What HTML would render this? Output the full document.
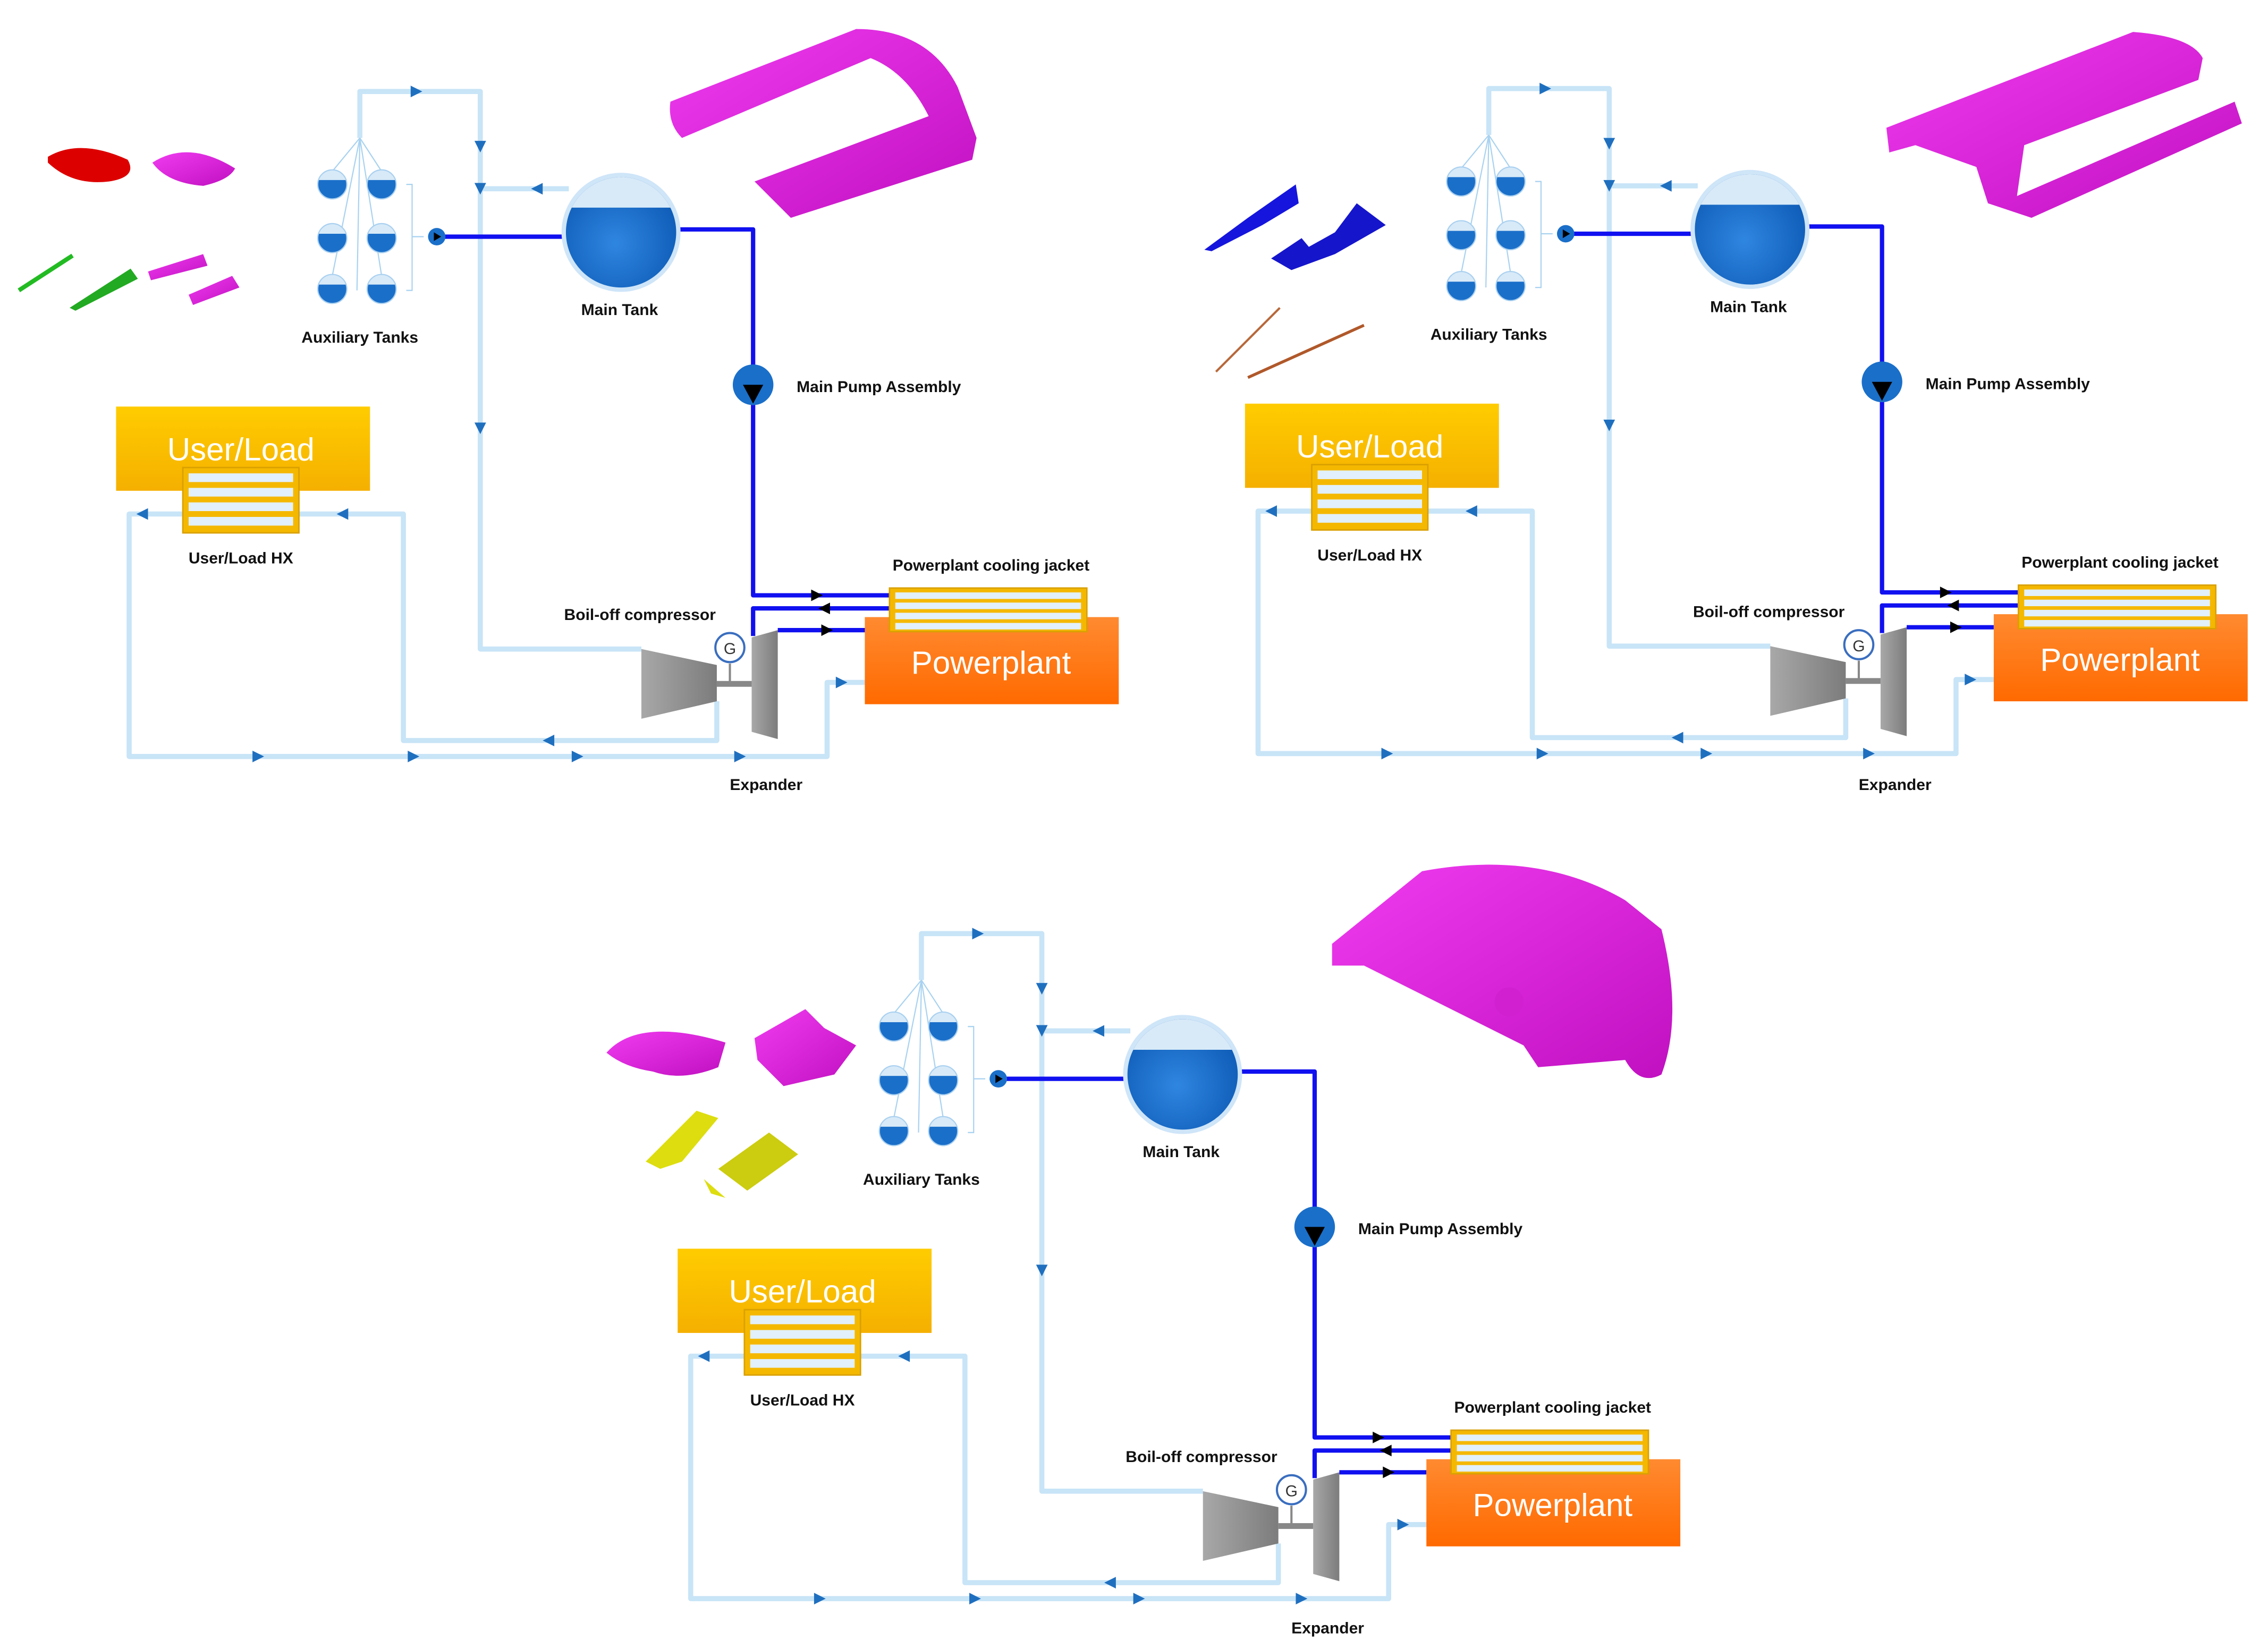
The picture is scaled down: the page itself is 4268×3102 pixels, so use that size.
<!DOCTYPE html>
<html><head><meta charset="utf-8"><style>
html,body{margin:0;padding:0;background:#fff;}
svg{display:block;}
text{font-family:"Liberation Sans",sans-serif;}
.lb{font-size:11px;font-weight:bold;fill:#111;text-anchor:middle;}
.big{font-size:22px;fill:#fff;text-anchor:middle;}
</style></head><body>
<svg width="4268" height="3102" viewBox="0 0 1563 1135" preserveAspectRatio="none" xmlns="http://www.w3.org/2000/svg" xmlns:xlink="http://www.w3.org/1999/xlink">
<defs>
<linearGradient id="gold" x1="0" y1="0" x2="0" y2="1"><stop offset="0" stop-color="#ffcc00"/><stop offset="1" stop-color="#f5b000"/></linearGradient>
<linearGradient id="org" x1="0" y1="0" x2="0" y2="1"><stop offset="0" stop-color="#ff8a30"/><stop offset="1" stop-color="#ff6a00"/></linearGradient>
<radialGradient id="tk" cx="0.45" cy="0.6" r="0.6"><stop offset="0" stop-color="#2f86e0"/><stop offset="1" stop-color="#0f5db8"/></radialGradient>
<linearGradient id="gr" x1="0" y1="0" x2="1" y2="0"><stop offset="0" stop-color="#a8a8a8"/><stop offset="1" stop-color="#7c7c7c"/></linearGradient>
<linearGradient id="mg" x1="0" y1="0" x2="1" y2="1"><stop offset="0" stop-color="#f03cf0"/><stop offset="1" stop-color="#c010c0"/></linearGradient>
<clipPath id="tc"><circle cx="0" cy="0" r="38"/></clipPath>
<clipPath id="ac"><circle cx="0" cy="0" r="10"/></clipPath>
<polygon id="ar" points="-4,-4 4,0 -4,4" fill="#1f6fbf"/>
<polygon id="ak" points="-4,-4 4,0 -4,4" fill="#000"/>
<g id="atk"><circle r="10" fill="#1a6fc9"/><rect x="-10" y="-10" width="20" height="7" fill="#d8eaf8" clip-path="url(#ac)"/><circle r="10" fill="none" stroke="#a9d0f0" stroke-width="0.8"/></g>
<g id="panel">
 <g fill="none" stroke="#c8e4f7" stroke-width="3.5" stroke-linejoin="round">
  <polyline points="248,95 248,63 331,63 331,447 442,447"/>
  <polyline points="392,130 331,130"/>
  <polyline points="494,483 494,510 278,510 278,354 206,354"/>
  <polyline points="126,354 89,354 89,521 570,521 570,470 596,470"/>
 </g>
 <g fill="none" stroke="#a8d2f0" stroke-width="0.8">
  <line x1="248" y1="95" x2="229" y2="118"/><line x1="248" y1="95" x2="263" y2="118"/>
  <line x1="248" y1="95" x2="229" y2="190"/><line x1="248" y1="95" x2="263" y2="190"/>
  <line x1="248" y1="95" x2="246" y2="200"/>
  <polyline points="280,127 284,127 284,200 280,200"/><line x1="284" y1="163" x2="292" y2="163"/>
 </g>
 <use href="#ar" transform="translate(287,63)"/>
 <use href="#ar" transform="translate(331,101) rotate(90)"/>
 <use href="#ar" transform="translate(331,130) rotate(90)"/>
 <use href="#ar" transform="translate(331,295) rotate(90)"/>
 <use href="#ar" transform="translate(370,130) rotate(180)"/>
 <use href="#ar" transform="translate(378,510) rotate(180)"/>
 <use href="#ar" transform="translate(236,354) rotate(180)"/>
 <use href="#ar" transform="translate(98,354) rotate(180)"/>
 <use href="#ar" transform="translate(178,521)"/>
 <use href="#ar" transform="translate(285,521)"/>
 <use href="#ar" transform="translate(398,521)"/>
 <use href="#ar" transform="translate(510,521)"/>
 <use href="#ar" transform="translate(580,470)"/>
 <g fill="none" stroke="#1010f0" stroke-width="3" stroke-linejoin="round">
  <line x1="301" y1="163" x2="392" y2="163"/>
  <polyline points="465,158 519,158 519,410 613,410"/>
  <polyline points="613,419 519,419 519,438"/>
  <polyline points="536,434 596,434"/>
 </g>
 <use href="#ak" transform="translate(563,410)"/>
 <use href="#ak" transform="translate(568,419) rotate(180)"/>
 <use href="#ak" transform="translate(570,434)"/>
 <use href="#atk" x="229" y="127"/><use href="#atk" x="263" y="127"/>
 <use href="#atk" x="229" y="164"/><use href="#atk" x="263" y="164"/>
 <use href="#atk" x="229" y="199"/><use href="#atk" x="263" y="199"/>
 <circle cx="301" cy="163" r="6" fill="#1a6fc9"/><polygon points="299,160 304,163 299,166" fill="#000"/>
 <g transform="translate(428,160)">
  <circle r="41" fill="#cfe5f8"/>
  <circle r="38" fill="url(#tk)"/>
  <rect x="-38" y="-38" width="76" height="21" fill="#d8eaf8" clip-path="url(#tc)"/>
 </g>
 <circle cx="519" cy="265" r="14" fill="#1a6fc9"/>
 <polygon points="512,265 526,265 519,278" fill="#000"/>
 <rect x="80" y="280" width="175" height="58" fill="url(#gold)"/>
 <rect x="126" y="322" width="80" height="45" fill="#f5b800" stroke="#d9a000"/>
 <g fill="#e2f0fb"><rect x="130" y="326" width="72" height="6"/><rect x="130" y="336" width="72" height="6"/><rect x="130" y="346" width="72" height="6"/><rect x="130" y="356" width="72" height="6"/></g>
 <rect x="596" y="425" width="175" height="60" fill="url(#org)"/>
 <rect x="613" y="405" width="136" height="30" fill="#f5b800" stroke="#d9a000"/>
 <g fill="#e2f0fb"><rect x="617" y="408" width="128" height="4.5"/><rect x="617" y="415" width="128" height="4.5"/><rect x="617" y="422" width="128" height="4.5"/><rect x="617" y="429" width="128" height="4.5"/></g>
 <polygon points="442,447 494,458 494,483 442,495" fill="url(#gr)"/>
 <polygon points="518,439 536,434 536,509 518,504" fill="url(#gr)"/>
 <rect x="494" y="469" width="24" height="4" fill="#888"/>
 <line x1="503" y1="457" x2="503" y2="470" stroke="#888" stroke-width="1.5"/>
 <circle cx="503" cy="446" r="10" fill="#fff" stroke="#3a6ebf" stroke-width="1.5"/>
 <text x="503" y="450.5" font-size="11" fill="#333" text-anchor="middle">G</text>
</g>
<g id="s1">
 <path d="M33,108 Q55,95 88,110 Q95,122 75,125 Q50,128 33,112Z" fill="#dd0000"/>
 <path d="M105,112 Q130,96 162,116 Q158,124 140,128 Q115,126 105,112Z" fill="url(#mg)"/>
 <line x1="13" y1="200" x2="50" y2="176" stroke="#22bb22" stroke-width="3"/>
 <polygon points="48,212 90,185 95,192 52,214" fill="#22aa22"/>
 <polygon points="102,187 140,175 143,183 104,193" fill="url(#mg)"/>
 <polygon points="130,203 160,190 165,198 133,210" fill="url(#mg)"/>
 <path d="M462,70 L590,20 Q640,20 660,60 L673,95 L670,110 L545,150 L520,125 L640,80 Q625,50 600,40 L470,95 Q460,85 462,70Z" fill="url(#mg)"/>
</g>
</defs>

<use href="#panel"/>
<use href="#panel" transform="translate(778,-2)"/>
<use href="#panel" transform="translate(387,580)"/>

<use href="#s1"/>
<polygon points="830,172 860,150 893,127 895,140 870,155 835,173" fill="#1515dd"/>
<polygon points="876,178 897,164 902,170 920,160 935,140 955,155 920,175 890,186" fill="#1515cc"/>
<line x1="838" y1="256" x2="882" y2="212" stroke="#b8683a" stroke-width="1.5"/>
<line x1="860" y1="260" x2="940" y2="224" stroke="#b0582a" stroke-width="2"/>
<path d="M1300,88 L1470,22 Q1510,25 1518,40 L1515,55 L1395,100 L1390,135 L1540,70 L1545,85 L1400,150 L1370,140 L1362,115 L1320,100 L1302,105Z" fill="url(#mg)"/>
<path d="M418,725 Q440,700 500,718 L495,735 Q470,745 450,738 Q430,735 418,725Z" fill="url(#mg)"/>
<path d="M520,715 L555,695 L568,708 L590,720 L575,740 L540,748 L522,730Z" fill="url(#mg)"/>
<polygon points="445,800 480,765 495,770 470,800 455,805" fill="#dddd10"/>
<polygon points="495,805 530,780 550,795 515,820" fill="#cccc10"/>
<polygon points="485,812 500,825 490,822" fill="#dddd10"/>
<path d="M918,650 L980,600 Q1060,585 1120,620 L1145,640 Q1160,700 1145,740 Q1130,748 1120,730 L1060,735 L1050,720 L1010,700 L940,665 L918,665Z" fill="url(#mg)"/>
<circle cx="1040" cy="690" r="10" fill="#d020d0"/>

<g>
<text class="lb" x="248" y="236">Auxiliary Tanks</text>
<text class="lb" x="427" y="217">Main Tank</text>
<text class="lb" x="549" y="270" style="text-anchor:start">Main Pump Assembly</text>
<text class="lb" x="166" y="388">User/Load HX</text>
<text class="lb" x="683" y="393">Powerplant cooling jacket</text>
<text class="lb" x="441" y="427">Boil-off compressor</text>
<text class="lb" x="528" y="544">Expander</text>
<text class="big" x="166" y="317">User/Load</text>
<text class="big" x="683" y="464">Powerplant</text>
</g>
<g transform="translate(778,-2)">
<text class="lb" x="248" y="236">Auxiliary Tanks</text>
<text class="lb" x="427" y="217">Main Tank</text>
<text class="lb" x="549" y="270" style="text-anchor:start">Main Pump Assembly</text>
<text class="lb" x="166" y="388">User/Load HX</text>
<text class="lb" x="683" y="393">Powerplant cooling jacket</text>
<text class="lb" x="441" y="427">Boil-off compressor</text>
<text class="lb" x="528" y="546">Expander</text>
<text class="big" x="166" y="317">User/Load</text>
<text class="big" x="683" y="464">Powerplant</text>
</g>
<g transform="translate(387,580)">
<text class="lb" x="248" y="236">Auxiliary Tanks</text>
<text class="lb" x="427" y="217">Main Tank</text>
<text class="lb" x="549" y="270" style="text-anchor:start">Main Pump Assembly</text>
<text class="lb" x="166" y="388">User/Load HX</text>
<text class="lb" x="683" y="393">Powerplant cooling jacket</text>
<text class="lb" x="441" y="427">Boil-off compressor</text>
<text class="lb" x="528" y="545">Expander</text>
<text class="big" x="166" y="317">User/Load</text>
<text class="big" x="683" y="464">Powerplant</text>
</g>
</svg>
</body></html>
